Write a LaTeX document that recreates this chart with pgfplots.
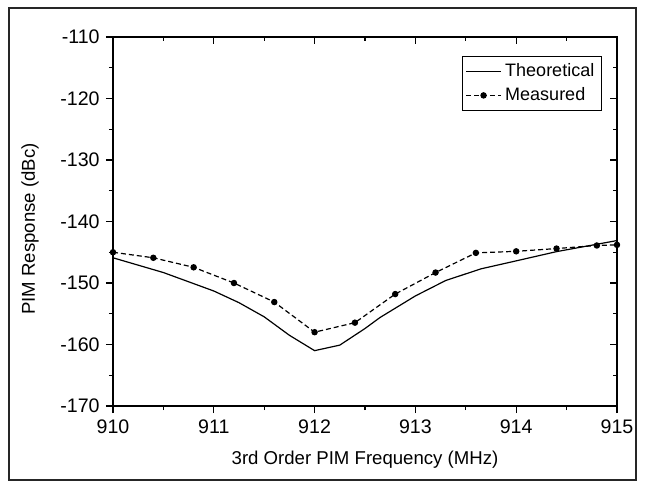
\documentclass[border=0pt]{standalone}
\usepackage{pgfplots}
\pgfplotsset{compat=1.18}
\usepackage{fontspec}
\setmainfont{Liberation Sans}
\begin{document}
\fontsize{9pt}{11pt}\selectfont
\begin{tikzpicture}
\useasboundingbox (-56.5pt,-41.5pt) rectangle (266pt,203pt);
\fill[white] (-56.5pt,-41.5pt) rectangle (266pt,203pt);
\draw[line width=0.75pt,black!85] (-52pt,-37pt) rectangle (261.5pt,199pt);
\pgfplotsset{common/.style={width=252pt,height=184.5pt,scale only axis,
  xmin=910,xmax=915,ymin=-170,ymax=-110,
  xtick={910,911,912,913,914,915}, ytick={-170,-160,-150,-140,-130,-120,-110},
  minor x tick num=1, minor y tick num=1,
  major tick length=3.5pt, minor tick length=2pt,
  axis line style={line width=0.75pt},
  every tick/.style={line width=0.6pt,black},
  /pgf/number format/assume math mode=true,
  /pgf/number format/1000 sep={},
  ticklabel style={font=\fontsize{9.8pt}{11pt}\selectfont}}}
\begin{axis}[common, xtick pos=top, ytick pos=right, tick align=inside,
  xticklabels={}, yticklabels={}]
\end{axis}
\begin{axis}[common, xtick pos=bottom, ytick pos=left, tick align=outside,
  xlabel={3rd Order PIM Frequency (MHz)},
  ylabel={PIM Response (dBc)},
  xlabel style={at={(axis description cs:0.5,-0.1463)},anchor=center},
  ylabel style={at={(axis description cs:-0.1647,0.48)},anchor=center},
  label style={font=\fontsize{9.3pt}{11pt}\selectfont},
  legend style={at={(0.97,0.948)},anchor=north east,draw=black,line width=0.6pt,
    font=\fontsize{9pt}{11pt}\selectfont,row sep=0pt,inner sep=1.5pt},
  legend cell align=left]
\addplot[black,line width=0.6pt] coordinates {
 (910,-145.9) (910.5,-148.3) (911,-151.3) (911.25,-153.2) (911.5,-155.5)
 (911.75,-158.5) (912,-161.0) (912.25,-160.1) (912.5,-157.4) (912.65,-155.6)
 (913,-152.1) (913.3,-149.6) (913.65,-147.7) (914,-146.4) (914.4,-144.9)
 (914.7,-144.0) (915,-143.1)};
\addlegendentry{Theoretical}
\addplot[black,line width=0.6pt,dash pattern=on 2.5pt off 1.5pt,mark=*,mark size=1.3pt,
  mark options={solid}] coordinates {
 (910,-145.0) (910.4,-145.9) (910.8,-147.45) (911.2,-150.0) (911.6,-153.1)
 (912,-158.0) (912.4,-156.45) (912.8,-151.8) (913.2,-148.3) (913.6,-145.1)
 (914,-144.85) (914.4,-144.4) (914.8,-143.9) (915,-143.8)};
\addlegendentry{Measured}
\end{axis}
\end{tikzpicture}
\end{document}
